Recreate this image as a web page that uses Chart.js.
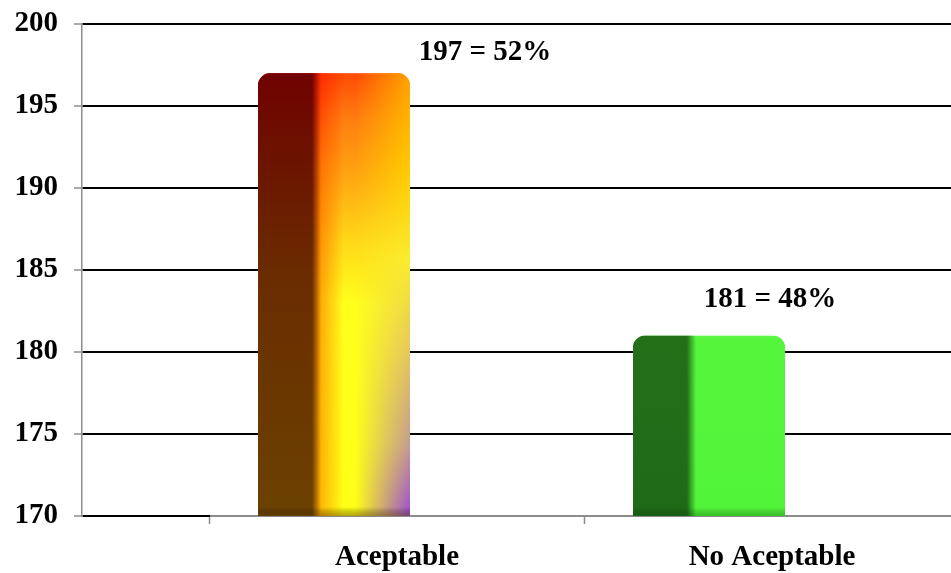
<!DOCTYPE html>
<html>
<head>
<meta charset="utf-8">
<script src="https://cdn.jsdelivr.net/npm/chart.js@4.4.1/dist/chart.umd.min.js"></script>
<style>
  html, body { margin: 0; padding: 0; background: #ffffff; }
  #wrap { width: 951px; height: 573px; position: relative; }
</style>
</head>
<body>
<div id="wrap"><canvas id="chart"></canvas></div>
<script>
// ---- data ----
const categories = ['Aceptable', 'No Aceptable'];
const counts = [197, 181];
const yTicks = [170, 175, 180, 185, 190, 195, 200];

// ---- look ----
const FONT = { family: '"Liberation Serif", "Times New Roman", serif', size: 29, weight: 'bold' };
const AXIS_GREY = '#8c8c8c';
const BAR_THICKNESS = 152;
const DEPTH = 0.168;          // bars sit slightly left of their category label (3-D depth shift)
const X_MIN = -0.84, X_MAX = 1.4773;

// per-bar shading: dark side face + lit front face
const barShades = [
  {
    side: [[0, '#700200'], [0.2, '#6c1400'], [0.45, '#6a2c00'], [1, '#6b4200']],
    face: [[0, '#ff4a06'], [0.1, '#ff7c10'], [0.24, '#ffa812'], [0.38, '#ffd818'], [0.52, '#ffff1c'], [1, '#ffff16']],
    faceRight: [[0, '#ffa200'], [0.22, '#ffcc00'], [0.42, '#faec30'], [0.62, '#e6c85c'], [0.84, '#c49a92'], [1, '#9a4cd4']],
    faceLeft: [[0, '#ff2400'], [0.22, '#ff6a00'], [0.5, '#ff9400'], [1, '#ffa400']],
    bottom: 'rgba(90,55,0,0.45)'
  },
  {
    side: [[0, '#247019'], [1, '#1f6a18']],
    face: [[0, '#60fb48'], [0.03, '#55f53c'], [1, '#52f43a']],
    bottom: 'rgba(0,70,0,0.3)'
  }
];

function paintLayer(g, w, h, rect, vStops, hStops) {
  const t = document.createElement('canvas');
  t.width = w; t.height = h;
  const tc = t.getContext('2d');
  const vg = tc.createLinearGradient(0, rect.top, 0, rect.bottom);
  vStops.forEach(([o, c]) => vg.addColorStop(o, c));
  tc.fillStyle = vg;
  tc.fillRect(rect.left, rect.top, rect.right - rect.left, rect.bottom - rect.top);
  if (hStops) {
    tc.globalCompositeOperation = 'destination-in';
    const hg = tc.createLinearGradient(rect.left, 0, rect.right, 0);
    hStops.forEach(([o, a]) => hg.addColorStop(o, 'rgba(0,0,0,' + a + ')'));
    tc.fillStyle = hg;
    tc.fillRect(0, 0, w, h);
  }
  g.drawImage(t, 0, 0);
}

const patternCache = {};
function barFill(chart, i) {
  const shade = barShades[i];
  if (!chart.chartArea || !chart.scales.x || !chart.scales.y) return shade.face[1][1];
  const xs = chart.scales.x, ys = chart.scales.y;
  const cx = xs.getPixelForValue(i - DEPTH);
  const left = cx - BAR_THICKNESS / 2, right = cx + BAR_THICKNESS / 2;
  const top = ys.getPixelForValue(counts[i]);
  const bottom = ys.getBasePixel();
  const key = [i, left, right, top, bottom, chart.width, chart.height].join('|');
  if (patternCache[key]) return patternCache[key];

  const w = chart.width, h = chart.height;
  const off = document.createElement('canvas');
  off.width = w; off.height = h;
  const g = off.getContext('2d');
  const rect = { left, right, top, bottom };
  const W = right - left;
  const split = 0.375;                 // share of the bar taken by the dark side
  const faceW = 1 - split;

  paintLayer(g, w, h, rect, shade.face, null);
  if (shade.faceRight) {
    paintLayer(g, w, h, rect, shade.faceRight, [[0, 0], [split + faceW * 0.42, 0], [1, 1]]);
  }
  if (shade.faceLeft) {
    paintLayer(g, w, h, rect, shade.faceLeft, [[0, 1], [split, 1], [split + faceW * 0.3, 0], [1, 0]]);
  }
  paintLayer(g, w, h, rect, shade.side, [[0, 1], [split - 3 / W, 1], [split + 6 / W, 0], [1, 0]]);
  paintLayer(g, w, h, { left, right, top: bottom - 9, bottom },
    [[0, 'rgba(0,0,0,0)'], [1, shade.bottom]], null);

  const pat = chart.ctx.createPattern(off, 'no-repeat');
  patternCache[key] = pat;
  return pat;
}

// value annotations "n = p%" above each bar
const valueLabels = {
  id: 'valueLabels',
  afterDatasetsDraw(chart, args, opts) {
    const ctx = chart.ctx;
    const meta = chart.getDatasetMeta(0);
    const total = counts.reduce((a, b) => a + b, 0);
    ctx.save();
    ctx.font = `${FONT.weight} ${FONT.size}px ${FONT.family}`;
    ctx.fillStyle = '#000';
    ctx.textAlign = 'center';
    ctx.textBaseline = 'middle';
    meta.data.forEach((bar, i) => {
      const v = counts[i];
      const [dx, dy] = opts.offsets[i];
      ctx.fillText(`${v} = ${Math.round(v / total * 100)}%`, bar.x + dx, bar.y - dy);
    });
    ctx.restore();
  }
};

new Chart(document.getElementById('chart'), {
  type: 'bar',
  data: {
    datasets: [{
      data: counts.map((v, i) => ({ x: i - DEPTH, y: v })),
      backgroundColor: ctx => (ctx.type === 'data' ? barFill(ctx.chart, ctx.dataIndex) : '#ffa000'),
      borderWidth: 0,
      borderRadius: 13,
      borderSkipped: false,
      barThickness: BAR_THICKNESS
    }]
  },
  options: {
    responsive: true,
    maintainAspectRatio: false,
    animation: false,
    layout: { padding: { top: 24, right: 0, bottom: 0, left: 0 } },
    plugins: {
      legend: { display: false },
      tooltip: { enabled: false },
      valueLabels: { offsets: [[151, 21], [61, 36]] }
    },
    scales: {
      x: {
        type: 'linear',
        offset: false,
        min: X_MIN,
        max: X_MAX,
        afterBuildTicks: s => { s.ticks = categories.map((_, i) => ({ value: i })); },
        ticks: {
          callback: (v, i) => categories[i],
          font: FONT,
          color: '#000',
          padding: 16,
          autoSkip: false,
          maxRotation: 0
        },
        grid: {
          offset: true,
          drawOnChartArea: false,
          drawTicks: true,
          tickLength: 8,
          tickColor: AXIS_GREY,
          tickWidth: 1.5
        },
        border: { display: false },
        afterFit: s => { s.height = 57; s.paddingLeft = 0; s.paddingRight = 0; }
      },
      y: {
        min: yTicks[0],
        max: yTicks[yTicks.length - 1],
        beginAtZero: false,
        afterBuildTicks: s => { s.ticks = yTicks.map(v => ({ value: v })); },
        ticks: { font: FONT, color: '#000', padding: 16 },
        grid: {
          color: c => {
            if (c.tick && c.tick.value === yTicks[0] && c.chart.chartArea && c.chart.scales.x) {
              const area = c.chart.chartArea;
              const edge = c.chart.scales.x.getPixelForValue(-0.5);
              const f = Math.min(1, Math.max(0, (edge - area.left) / (area.right - area.left)));
              const g = c.chart.ctx.createLinearGradient(area.left, 0, area.right, 0);
              g.addColorStop(0, '#000');
              g.addColorStop(f, '#000');
              g.addColorStop(f, AXIS_GREY);
              g.addColorStop(1, AXIS_GREY);
              return g;
            }
            return '#000';
          },
          lineWidth: 2,
          tickColor: AXIS_GREY,
          tickLength: 8,
          tickWidth: 1.5
        },
        border: { color: AXIS_GREY, width: 1.5 },
        afterFit: s => { s.width = 82; s.paddingTop = 0; s.paddingBottom = 0; }
      }
    }
  },
  plugins: [valueLabels]
});
</script>
</body>
</html>
